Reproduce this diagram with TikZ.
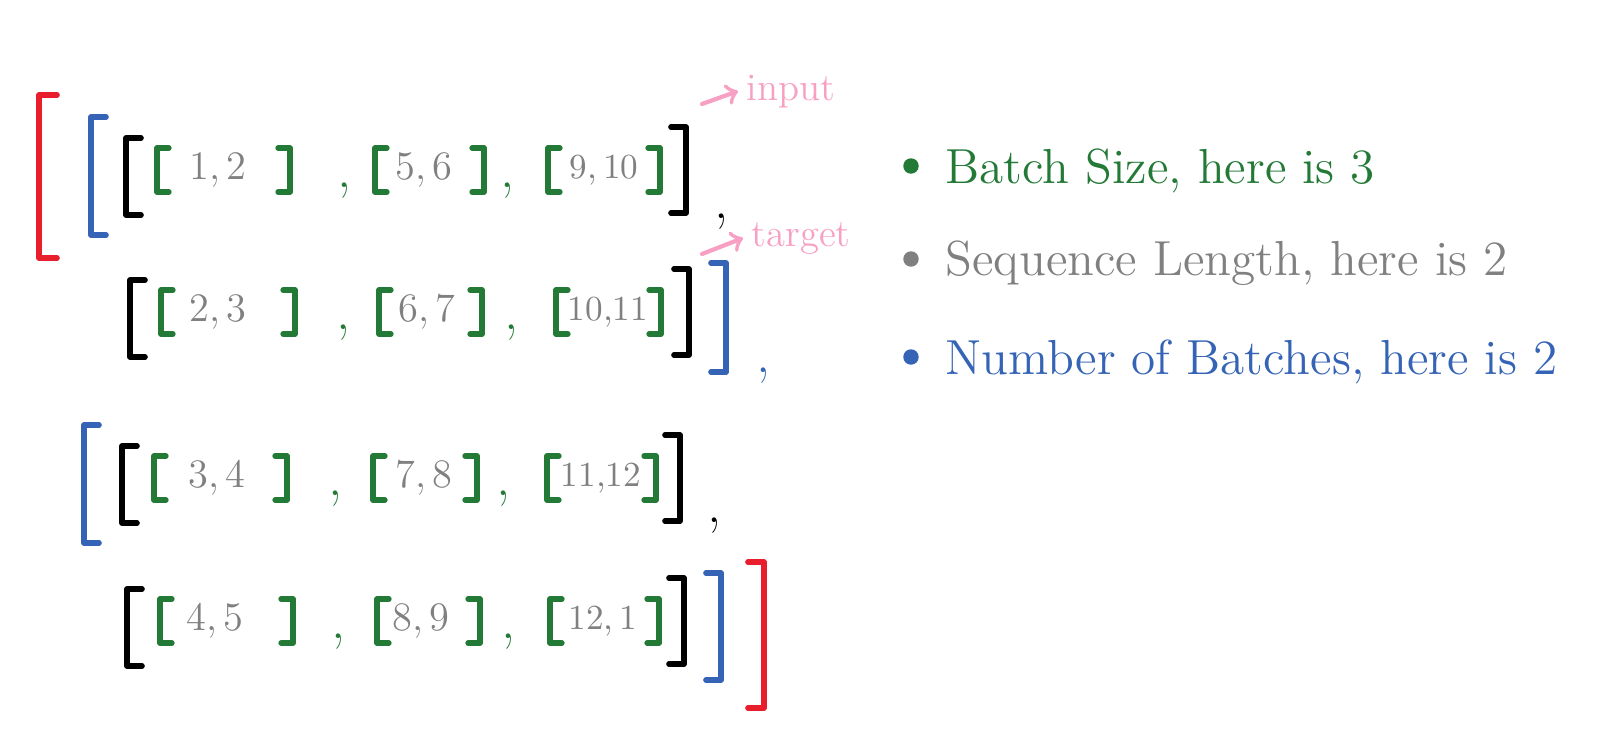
\documentclass[tikz,border=0pt]{standalone}
\usepackage{xcolor}
\usepackage{tikz}
\usetikzlibrary{calc, positioning}

\definecolor{bgreen}{RGB}{35,122,55}
\definecolor{sgray}{RGB}{128,128,128}
\definecolor{nblue}{RGB}{53,99,181}
\definecolor{outred}{RGB}{232,30,45}
\definecolor{notepink}{RGB}{247,160,195}

\newcommand{\twodig}[1]{{\fontsize{10}{12}\selectfont #1}}

\begin{document}
\begin{tikzpicture}[x=0.01cm, y=-0.01cm,
    pen/.style={line width=1.6pt, line cap=round, line join=round},
    num/.style={text=sgray, font=\fontsize{11.5}{14}\selectfont, inner sep=0pt},
    sep/.style={anchor=base, font=\fontsize{16}{18}\selectfont, inner sep=0pt},
    legend/.style={anchor=base west, font=\fontsize{14}{16}\selectfont, inner sep=0pt},
    note/.style={anchor=base west, text=notepink, font=\fontsize{11}{13}\selectfont, inner sep=0pt}]

    \useasboundingbox (0,0) rectangle (1624,736);

    % 1. Outer brackets
    \draw[pen, outred] (57,95) -- (39,95) -- (39,258) -- (57,258);
    \draw[pen, outred] (748,562) -- (764,562) -- (764,708) -- (748,708);

    % 2. Batch brackets
    \draw[pen, nblue] (106,117) -- (91,117) -- (91,235) -- (106,235);
    \draw[pen, nblue] (711,263) -- (726,263) -- (726,372) -- (711,372);
    \node[sep, text=nblue] (c2) at (764,372) {,};
    \draw[pen, nblue] (99,425) -- (84,425) -- (84,543) -- (99,543);
    \draw[pen, nblue] (706,573) -- (721,573) -- (721,680) -- (706,680);

    % 3. Sequences (one per row)
    \foreach \c/\xl/\xr in {170/126/686, 312/130/689, 478/122/680, 621/127/684} {
        \draw[pen] ({\xl+15},{\c-32}) -- (\xl,{\c-32}) -- (\xl,{\c+45}) -- ({\xl+15},{\c+45});
        \draw[pen] ({\xr-15},{\c-43}) -- (\xr,{\c-43}) -- (\xr,{\c+43}) -- ({\xr-15},{\c+43});
    }
    \node[sep] (c1) at (722,218) {,};
    \node[sep] (c3) at (715,522) {,};

    % 4. Batch items
    \foreach \c/\gl/\gr/\tx/\txt [count=\i] in {
        170/157/290/218/{1,\,2}, 170/375/484/424/{5,\,6}, 170/548/660/604/{\twodig{9,\,10}},
        312/161/295/218/{2,\,3}, 312/379/482/427/{6,\,7}, 312/556/661/608/{\twodig{10,11}},
        478/154/287/217/{3,\,4}, 478/373/477/424/{7,\,8}, 478/547/656/601/{\twodig{11,12}},
        621/160/293/215/{4,\,5}, 621/377/480/421/{8,\,9}, 621/550/659/603/{\twodig{12,\,1}}} {
        \draw[pen, line width=1.5pt, bgreen] ({\gl+12},{\c-22}) -- (\gl,{\c-22}) -- (\gl,{\c+22}) -- ({\gl+12},{\c+22});
        \draw[pen, line width=1.5pt, bgreen] ({\gr-12},{\c-22}) -- (\gr,{\c-22}) -- (\gr,{\c+22}) -- ({\gr-12},{\c+22});
        \node[num] (p\i) at (\tx,\c) {\txt};
    }
    \foreach \c/\xa/\xb [count=\i] in {170/345/508, 312/344/512, 478/336/504, 621/339/509} {
        \node[sep, text=bgreen] (ca\i) at (\xa,{\c+17}) {,};
        \node[sep, text=bgreen] (cb\i) at (\xb,{\c+17}) {,};
    }

    % 5. Notes
    \node[note] (inp) at (746,100) {input};
    \node[note] (tgt) at (751,246) {target};
    \coordinate (inp-from) at (702,104);
    \coordinate (tgt-from) at (702,254);
    \draw[->, notepink, line width=1.2pt, line cap=round] (inp-from) -- ($(inp.west)+(-8,0)$);
    \draw[->, notepink, line width=1.2pt, line cap=round] (tgt-from) -- ($(tgt.west)+(-8,0)$);

    % 6. Legend
    \fill[bgreen] (911,166) circle[radius=2.2pt];
    \fill[sgray]  (911,259) circle[radius=2.2pt];
    \fill[nblue]  (911,357) circle[radius=2.2pt];
    \node[legend, text=bgreen] (bs) at (945,183) {Batch Size, here is 3};
    \node[legend, text=sgray]  (sl) at (945,275) {Sequence Length, here is 2};
    \node[legend, text=nblue]  (nb) at (945,374) {Number of Batches, here is 2};
\end{tikzpicture}
\end{document}
